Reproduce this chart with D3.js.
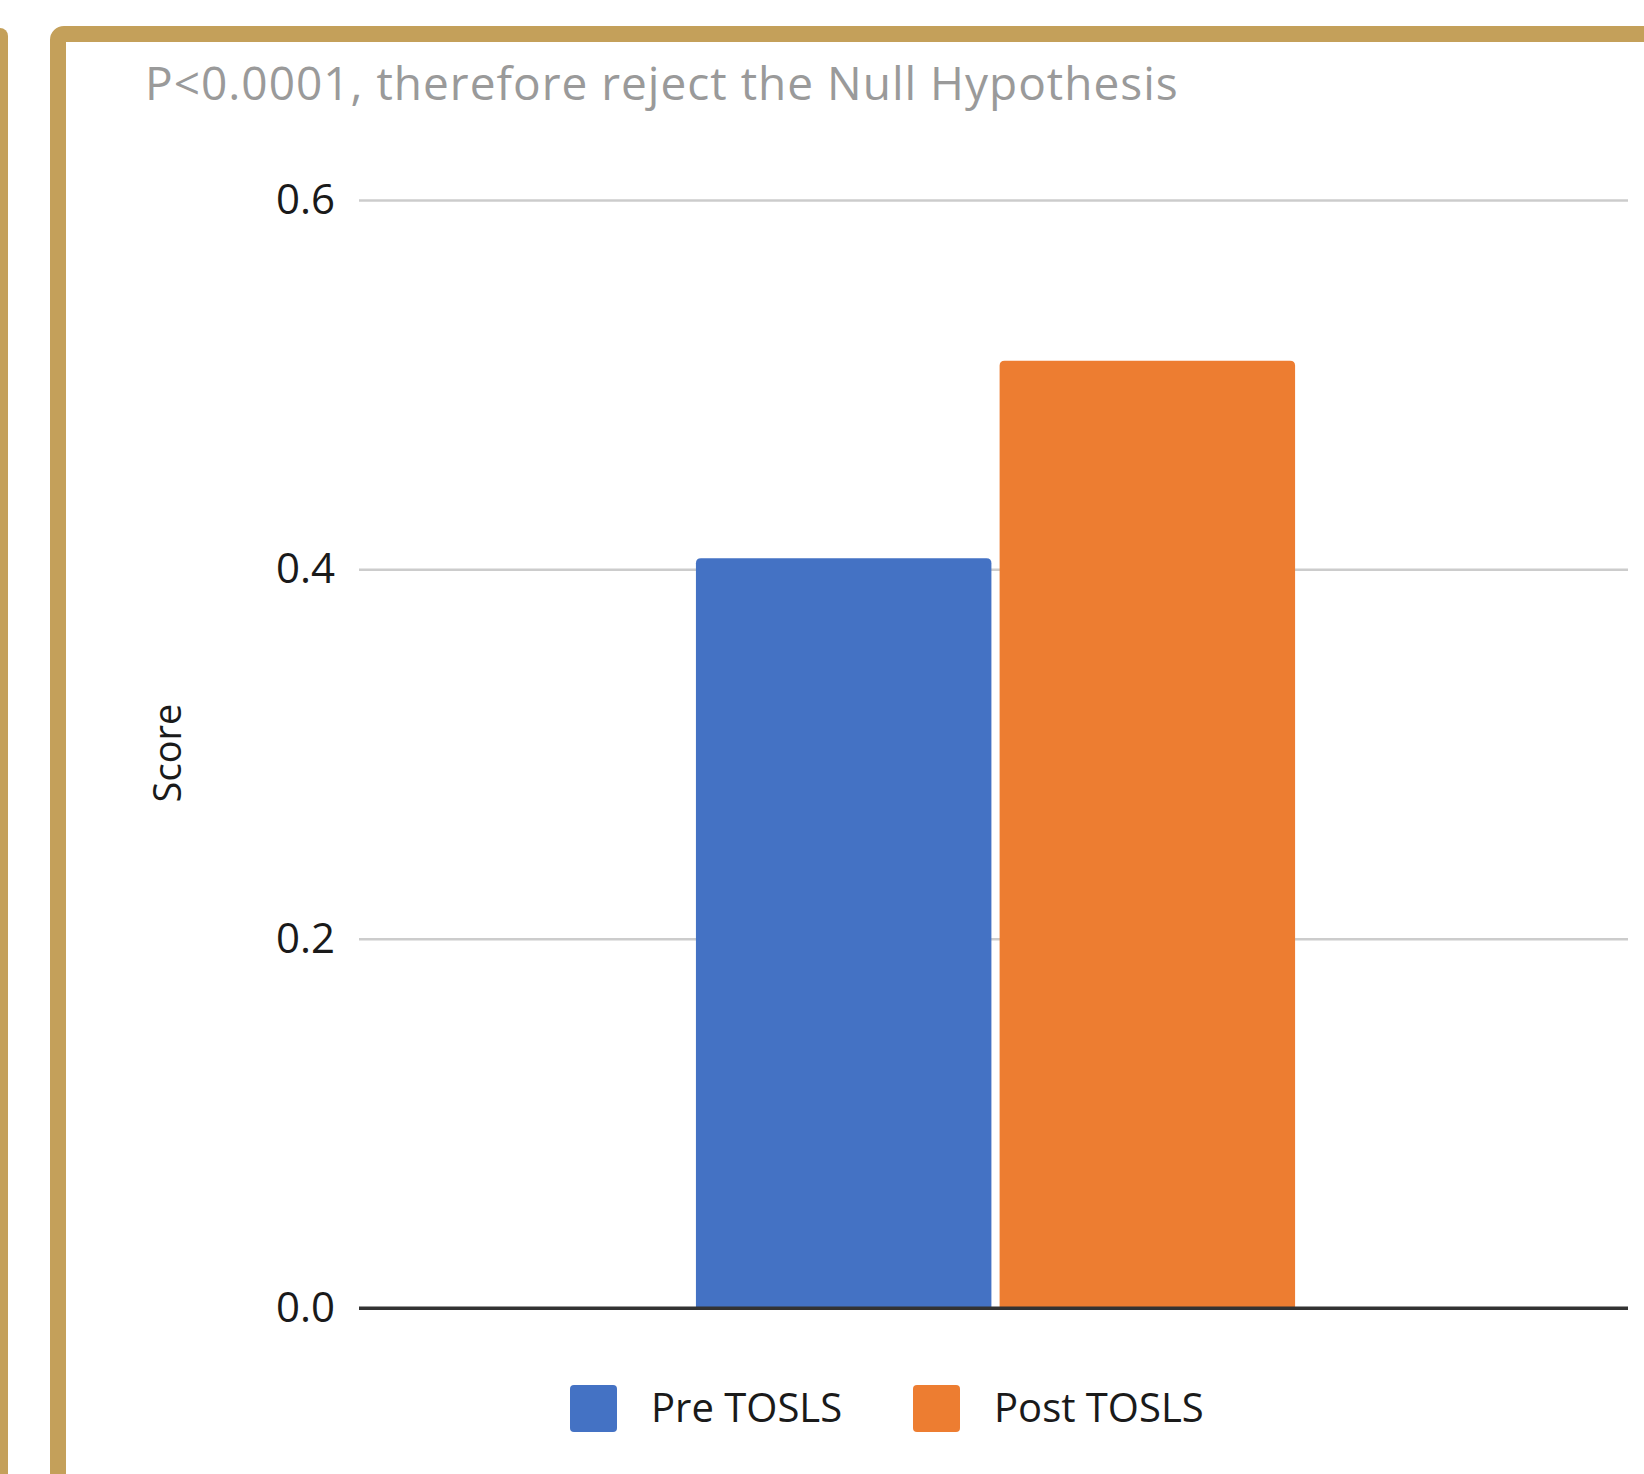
<!DOCTYPE html>
<html>
<head>
<meta charset="utf-8">
<script src="https://d3js.org/d3.v7.min.js"></script>
<style>
  body { margin: 0; background: #fff; }
  text { font-family: "Open Sans", sans-serif; }
</style>
</head>
<body>
<div id="my_dataviz"></div>
<script>

// data
var categories = [""];
var series = ["Pre TOSLS", "Post TOSLS"];
var values = [0.406, 0.513];
var yTicks = [0, 0.2, 0.4, 0.6];
var title = "P<0.0001, therefore reject the Null Hypothesis";

var W = 1644, H = 1474;
var gold = "#C4A05A";

// plot area
var margin = {top: 200, right: 16, bottom: 166, left: 359},
    width = W - margin.left - margin.right,
    height = H - margin.top - margin.bottom;

var svg = d3.select("#my_dataviz")
  .append("svg")
    .attr("width", W)
    .attr("height", H);

// frames
svg.append("rect")
  .attr("x", -20).attr("y", 28)
  .attr("width", 28).attr("height", H + 40)
  .attr("rx", 8)
  .style("fill", gold);

svg.append("rect")
  .attr("x", 58).attr("y", 34)
  .attr("width", W + 40).attr("height", H + 40)
  .attr("rx", 6)
  .style("fill", "#fff")
  .style("stroke", gold)
  .style("stroke-width", 16);

// title
svg.append("text")
  .attr("x", 145)
  .attr("y", 100)
  .style("font-size", "46px")
  .style("letter-spacing", "1px")
  .style("fill", "#9a9a9a")
  .text(title);

var g = svg.append("g")
  .attr("transform", "translate(" + margin.left + "," + margin.top + ")");

// scales
var y = d3.scaleLinear()
  .domain([0, 0.6])
  .range([height, 0]);

var x = d3.scaleBand()
  .domain(categories)
  .range([0, width])
  .paddingInner(0)
  .paddingOuter(0.559)
  .align(0.503);

var xSub = d3.scaleBand()
  .domain(series)
  .range([0, x.bandwidth()])
  .paddingInner(0.027);

var color = d3.scaleOrdinal()
  .domain(series)
  .range(["#4472C4", "#ED7D31"]);

// gridlines + labels
var yAxis = g.append("g")
  .call(d3.axisLeft(y).tickValues(yTicks).tickFormat(d3.format(".1f"))
    .tickSize(-width).tickPadding(24));
yAxis.select(".domain").remove();
yAxis.selectAll(".tick line")
  .style("stroke", function(d){ return d === 0 ? "#333" : "#cccccc"; })
  .style("stroke-width", function(d){ return d === 0 ? 3 : 2.5; });
yAxis.selectAll(".tick text")
  .style("font-size", "42px")
  .style("fill", "#1a1a1a")
  .style("font-family", "'Open Sans', sans-serif");

// bars with rounded top corners
function barPath(x0, y0, w, h, r) {
  return "M" + x0 + "," + (y0 + h) +
    "V" + (y0 + r) +
    "Q" + x0 + "," + y0 + " " + (x0 + r) + "," + y0 +
    "H" + (x0 + w - r) +
    "Q" + (x0 + w) + "," + y0 + " " + (x0 + w) + "," + (y0 + r) +
    "V" + (y0 + h) + "Z";
}

g.append("g")
  .selectAll("path")
  .data(series)
  .enter()
  .append("path")
    .attr("d", function(d, i) {
      var x0 = x(categories[0]) + xSub(d);
      return barPath(x0, y(values[i]), xSub.bandwidth(), height - y(values[i]), 5);
    })
    .style("fill", function(d){ return color(d); });

// redraw baseline on top of bars
g.append("line")
  .attr("x1", 0).attr("x2", width)
  .attr("y1", y(0)).attr("y2", y(0))
  .style("stroke", "#333")
  .style("stroke-width", 3);

// y label
svg.append("text")
  .attr("transform", "translate(181,753) rotate(-90)")
  .attr("text-anchor", "middle")
  .style("font-size", "38px")
  .style("fill", "#1a1a1a")
  .text("Score");

// legend
var legX = [570, 913];
var size = 47;
svg.selectAll("myrect")
  .data(series)
  .enter()
  .append("rect")
    .attr("x", function(d, i){ return legX[i]; })
    .attr("y", 1385)
    .attr("width", size)
    .attr("height", size)
    .attr("rx", 4)
    .style("fill", function(d){ return color(d); });

svg.selectAll("mylabels")
  .data(series)
  .enter()
  .append("text")
    .attr("x", function(d, i){ return legX[i] + 81; })
    .attr("y", 1422)
    .style("font-size", "40px")
    .style("fill", "#1a1a1a")
    .text(function(d){ return d; });

</script>
</body>
</html>
